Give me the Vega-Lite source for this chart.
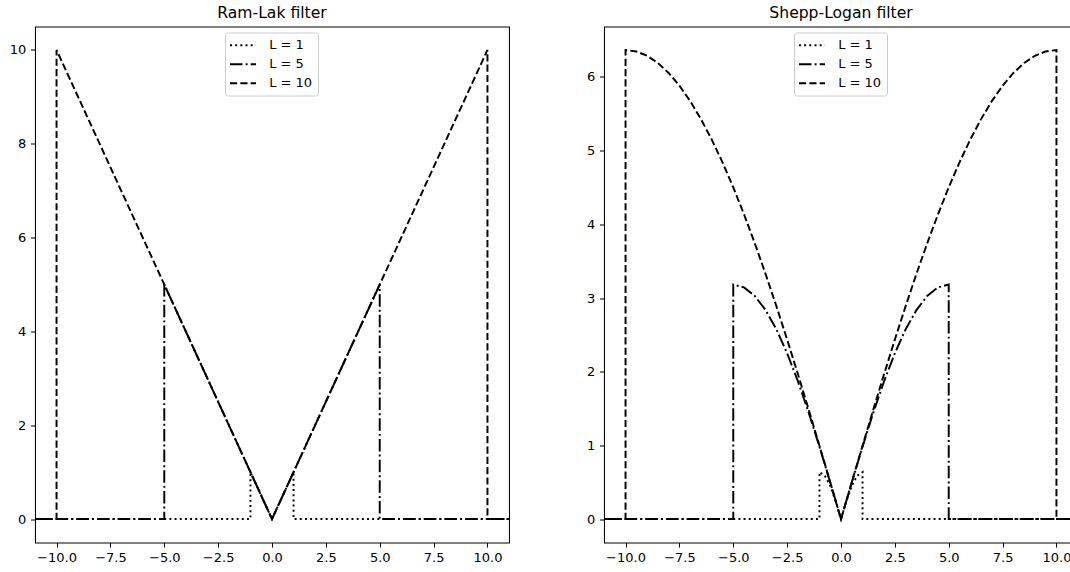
{
  "$schema": "https://vega.github.io/schema/vega-lite/v6.json",
  "padding": {"left": 8, "top": 5.5, "right": 0, "bottom": 0},
  "config": {
    "font": "DejaVu Sans",
    "view": {"stroke": "black", "strokeWidth": 1.04},
    "axis": {"grid": false, "domain": false, "tickColor": "black", "tickWidth": 1.04, "tickSize": 4.55, "labelPadding": 4.55, "labelFontSize": 13, "labelColor": "black", "title": null, "labelFont": "DejaVu Sans"},
    "title": {"fontSize": 15.6, "fontWeight": "normal", "font": "DejaVu Sans", "color": "black", "offset": 4.5, "anchor": "middle"},
    "legend": {"fillColor": "rgba(255,255,255,0.8)", "strokeColor": "#cccccc", "cornerRadius": 3, "padding": 5.2, "symbolType": "M-2,0L2,0", "symbolStrokeWidth": 1.95, "symbolStrokeColor": "black", "symbolFillColor": "transparent", "symbolSize": 169, "symbolOffset": 5.3, "labelFontSize": 13, "labelColor": "black", "labelFont": "DejaVu Sans", "rowPadding": 4, "labelOffset": 18.7},
    "concat": {"spacing": 76}
  },
  "datasets": {
    "ramlak": [
      {"L": 1, "i": 0, "x": -11, "y": 0}, {"L": 1, "i": 1, "x": -1, "y": 0}, {"L": 1, "i": 2, "x": -1, "y": 1}, {"L": 1, "i": 3, "x": 0, "y": 0}, {"L": 1, "i": 4, "x": 1, "y": 1}, {"L": 1, "i": 5, "x": 1, "y": 0}, {"L": 1, "i": 6, "x": 11, "y": 0},
      {"L": 5, "i": 0, "x": -11, "y": 0}, {"L": 5, "i": 1, "x": -5, "y": 0}, {"L": 5, "i": 2, "x": -5, "y": 5}, {"L": 5, "i": 3, "x": 0, "y": 0}, {"L": 5, "i": 4, "x": 5, "y": 5}, {"L": 5, "i": 5, "x": 5, "y": 0}, {"L": 5, "i": 6, "x": 11, "y": 0},
      {"L": 10, "i": 0, "x": -11, "y": 0}, {"L": 10, "i": 1, "x": -10, "y": 0}, {"L": 10, "i": 2, "x": -10, "y": 10}, {"L": 10, "i": 3, "x": 0, "y": 0}, {"L": 10, "i": 4, "x": 10, "y": 10}, {"L": 10, "i": 5, "x": 10, "y": 0}, {"L": 10, "i": 6, "x": 11, "y": 0}
    ],
    "shepplogan": [
      {"L": 1, "i": 0, "x": -11, "y": 0}, {"L": 1, "i": 1, "x": -1, "y": 0}, {"L": 1, "i": 2, "x": -1, "y": 0.6366}, {"L": 1, "i": 3, "x": -0.75, "y": 0.5882}, {"L": 1, "i": 4, "x": -0.5, "y": 0.4502}, {"L": 1, "i": 5, "x": -0.25, "y": 0.2436}, {"L": 1, "i": 6, "x": 0, "y": 0}, {"L": 1, "i": 7, "x": 0.25, "y": 0.2436}, {"L": 1, "i": 8, "x": 0.5, "y": 0.4502}, {"L": 1, "i": 9, "x": 0.75, "y": 0.5882}, {"L": 1, "i": 10, "x": 1, "y": 0.6366}, {"L": 1, "i": 11, "x": 1, "y": 0}, {"L": 1, "i": 12, "x": 11, "y": 0},
      {"L": 5, "i": 0, "x": -11, "y": 0}, {"L": 5, "i": 1, "x": -5, "y": 0}, {"L": 5, "i": 2, "x": -5, "y": 3.1831}, {"L": 5, "i": 3, "x": -4.5, "y": 3.1439}, {"L": 5, "i": 4, "x": -4, "y": 3.0273}, {"L": 5, "i": 5, "x": -3.5, "y": 2.8362}, {"L": 5, "i": 6, "x": -3, "y": 2.5752}, {"L": 5, "i": 7, "x": -2.5, "y": 2.2508}, {"L": 5, "i": 8, "x": -2, "y": 1.871}, {"L": 5, "i": 9, "x": -1.5, "y": 1.4451}, {"L": 5, "i": 10, "x": -1, "y": 0.9836}, {"L": 5, "i": 11, "x": -0.5, "y": 0.498}, {"L": 5, "i": 12, "x": 0, "y": 0}, {"L": 5, "i": 13, "x": 0.5, "y": 0.498}, {"L": 5, "i": 14, "x": 1, "y": 0.9836}, {"L": 5, "i": 15, "x": 1.5, "y": 1.4451}, {"L": 5, "i": 16, "x": 2, "y": 1.871}, {"L": 5, "i": 17, "x": 2.5, "y": 2.2508}, {"L": 5, "i": 18, "x": 3, "y": 2.5752}, {"L": 5, "i": 19, "x": 3.5, "y": 2.8362}, {"L": 5, "i": 20, "x": 4, "y": 3.0273}, {"L": 5, "i": 21, "x": 4.5, "y": 3.1439}, {"L": 5, "i": 22, "x": 5, "y": 3.1831}, {"L": 5, "i": 23, "x": 5, "y": 0}, {"L": 5, "i": 24, "x": 11, "y": 0},
      {"L": 10, "i": 0, "x": -11, "y": 0}, {"L": 10, "i": 1, "x": -10, "y": 0}, {"L": 10, "i": 2, "x": -10, "y": 6.3662}, {"L": 10, "i": 3, "x": -9.5, "y": 6.3466}, {"L": 10, "i": 4, "x": -9, "y": 6.2878}, {"L": 10, "i": 5, "x": -8.5, "y": 6.1903}, {"L": 10, "i": 6, "x": -8, "y": 6.0546}, {"L": 10, "i": 7, "x": -7.5, "y": 5.8816}, {"L": 10, "i": 8, "x": -7, "y": 5.6723}, {"L": 10, "i": 9, "x": -6.5, "y": 5.4281}, {"L": 10, "i": 10, "x": -6, "y": 5.1504}, {"L": 10, "i": 11, "x": -5.5, "y": 4.8409}, {"L": 10, "i": 12, "x": -5, "y": 4.5016}, {"L": 10, "i": 13, "x": -4.5, "y": 4.1345}, {"L": 10, "i": 14, "x": -4, "y": 3.7419}, {"L": 10, "i": 15, "x": -3.5, "y": 3.3263}, {"L": 10, "i": 16, "x": -3, "y": 2.8902}, {"L": 10, "i": 17, "x": -2.5, "y": 2.4362}, {"L": 10, "i": 18, "x": -2, "y": 1.9673}, {"L": 10, "i": 19, "x": -1.5, "y": 1.4862}, {"L": 10, "i": 20, "x": -1, "y": 0.9959}, {"L": 10, "i": 21, "x": -0.5, "y": 0.4995}, {"L": 10, "i": 22, "x": 0, "y": 0}, {"L": 10, "i": 23, "x": 0.5, "y": 0.4995}, {"L": 10, "i": 24, "x": 1, "y": 0.9959}, {"L": 10, "i": 25, "x": 1.5, "y": 1.4862}, {"L": 10, "i": 26, "x": 2, "y": 1.9673}, {"L": 10, "i": 27, "x": 2.5, "y": 2.4362}, {"L": 10, "i": 28, "x": 3, "y": 2.8902}, {"L": 10, "i": 29, "x": 3.5, "y": 3.3263}, {"L": 10, "i": 30, "x": 4, "y": 3.7419}, {"L": 10, "i": 31, "x": 4.5, "y": 4.1345}, {"L": 10, "i": 32, "x": 5, "y": 4.5016}, {"L": 10, "i": 33, "x": 5.5, "y": 4.8409}, {"L": 10, "i": 34, "x": 6, "y": 5.1504}, {"L": 10, "i": 35, "x": 6.5, "y": 5.4281}, {"L": 10, "i": 36, "x": 7, "y": 5.6723}, {"L": 10, "i": 37, "x": 7.5, "y": 5.8816}, {"L": 10, "i": 38, "x": 8, "y": 6.0546}, {"L": 10, "i": 39, "x": 8.5, "y": 6.1903}, {"L": 10, "i": 40, "x": 9, "y": 6.2878}, {"L": 10, "i": 41, "x": 9.5, "y": 6.3466}, {"L": 10, "i": 42, "x": 10, "y": 6.3662}, {"L": 10, "i": 43, "x": 10, "y": 0}, {"L": 10, "i": 44, "x": 11, "y": 0}
    ]
  },
  "hconcat": [
    {
      "title": "Ram-Lak filter",
      "width": 474,
      "height": 516,
      "data": {"name": "ramlak"},
      "mark": {"type": "line", "color": "black", "strokeWidth": 1.95, "clip": true},
      "encoding": {
        "x": {"field": "x", "type": "quantitative", "scale": {"domain": [-11, 11], "nice": false, "zero": false}, "axis": {"values": [-10, -7.5, -5, -2.5, 0, 2.5, 5, 7.5, 10], "labelExpr": "replace(format(datum.value, '.1f'), '-', '−')"}},
        "y": {"field": "y", "type": "quantitative", "scale": {"domain": [-0.5, 10.5], "nice": false, "zero": false}, "axis": {"values": [0, 2, 4, 6, 8, 10]}},
        "strokeDash": {"field": "L", "type": "ordinal", "scale": {"domain": [1, 5, 10], "range": [[1.95, 3.22], [12.5, 3.12, 1.95, 3.12], [7.2, 3.12]]}, "legend": {"orient": "none", "legendX": 190, "legendY": 6, "title": null, "labelExpr": "'L = ' + datum.label"}},
        "order": {"field": "i", "type": "quantitative"}
      }
    },
    {
      "title": "Shepp-Logan filter",
      "width": 474,
      "height": 516,
      "data": {"name": "shepplogan"},
      "mark": {"type": "line", "color": "black", "strokeWidth": 1.95, "clip": true},
      "encoding": {
        "x": {"field": "x", "type": "quantitative", "scale": {"domain": [-11, 11], "nice": false, "zero": false}, "axis": {"values": [-10, -7.5, -5, -2.5, 0, 2.5, 5, 7.5, 10], "labelExpr": "replace(format(datum.value, '.1f'), '-', '−')"}},
        "y": {"field": "y", "type": "quantitative", "scale": {"domain": [-0.318, 6.685], "nice": false, "zero": false}, "axis": {"values": [0, 1, 2, 3, 4, 5, 6]}},
        "strokeDash": {"field": "L", "type": "ordinal", "scale": {"domain": [1, 5, 10], "range": [[1.95, 3.22], [12.5, 3.12, 1.95, 3.12], [7.2, 3.12]]}, "legend": {"orient": "none", "legendX": 190, "legendY": 6, "title": null, "labelExpr": "'L = ' + datum.label"}},
        "order": {"field": "i", "type": "quantitative"}
      }
    }
  ],
  "resolve": {"scale": {"strokeDash": "independent", "x": "independent", "y": "independent"}, "legend": {"strokeDash": "independent"}}
}
